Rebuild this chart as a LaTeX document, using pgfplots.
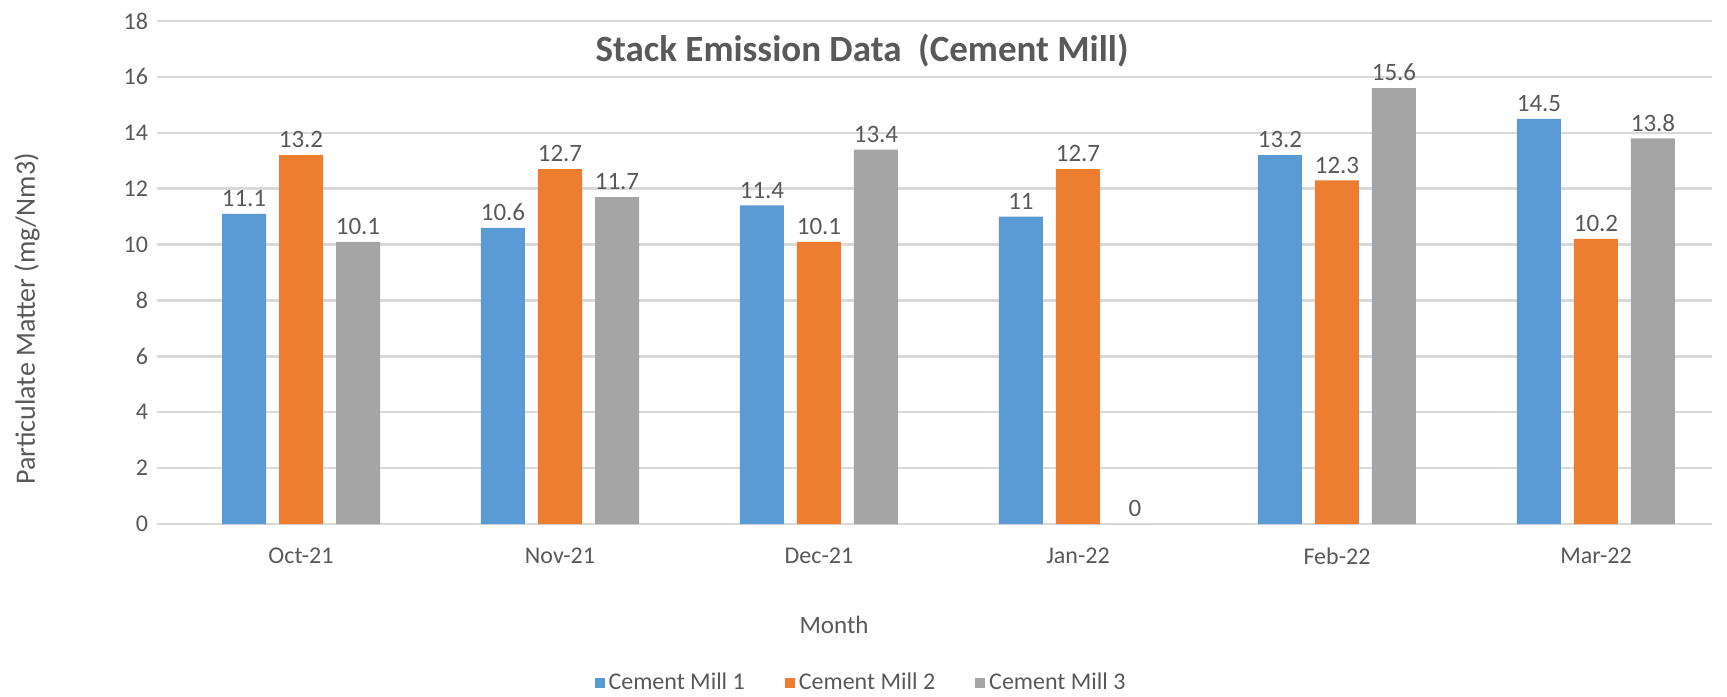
\documentclass[border=0pt]{standalone}
\usepackage{pgfplots}
\pgfplotsset{compat=1.18}
\usepackage{fontspec}
\setmainfont{Carlito}

\definecolor{millblue}{RGB}{91,155,213}
\definecolor{millorange}{RGB}{237,125,49}
\definecolor{millgray}{RGB}{165,165,165}
\definecolor{gridgray}{RGB}{217,217,217}
\definecolor{textgray}{RGB}{89,89,89}

\begin{document}
\begin{tikzpicture}
\useasboundingbox (-78.5pt,-86pt) rectangle (785pt,262pt);
\begin{axis}[
  at={(0,0)}, anchor=south west,
  scale only axis,
  width=777.5pt, height=251.5pt,
  ybar=6.5pt, bar width=22pt,
  xmin=-0.556, xmax=5.448,
  ymin=0, ymax=18,
  xtick={0,...,5},
  xticklabels={Oct-21,Nov-21,Dec-21,Jan-22,Feb-22,Mar-22},
  ytick={0,2,...,18},
  ymajorgrids,
  major grid style={gridgray, line width=1.2pt},
  axis line style={draw=none},
  tick style={draw=none},
  ticklabel style={font=\fontsize{12}{14}\selectfont, text=textgray},
  /pgf/number format/assume math mode=true,
  yticklabel style={xshift=-1pt},
  xticklabel style={yshift=-4pt},
  title={Stack Emission Data\ \ (Cement Mill)},
  title style={at={(axis description cs:0.4534,0.9165)}, anchor=center,
    font=\fontsize{18.5}{22}\selectfont\bfseries, text=textgray},
  xlabel={Month},
  xlabel style={at={(axis description cs:0.4354,-0.2008)}, anchor=center,
    font=\fontsize{12.5}{15}\selectfont, text=textgray},
  ylabel={Particulate Matter (mg/Nm3)},
  ylabel style={at={(axis description cs:-0.0836,0.4076)}, anchor=center,
    font=\fontsize{14}{16}\selectfont, text=textgray},
  nodes near coords,
  nodes near coords style={font=\fontsize{12.5}{15}\selectfont, text=textgray},
  legend columns=3,
  legend style={at={(axis description cs:0.4534,-0.316)}, anchor=center,
    draw=none, font=\fontsize{12}{14}\selectfont, text=textgray,
    /tikz/every even column/.append style={column sep=18pt}},
  legend image code/.code={\fill[#1] (0pt,-2.5pt) rectangle (5pt,2.5pt);},
]
\addplot[fill=millblue, draw=none] coordinates {(0,11.1) (1,10.6) (2,11.4) (3,11) (4,13.2) (5,14.5)};
\addplot[fill=millorange, draw=none] coordinates {(0,13.2) (1,12.7) (2,10.1) (3,12.7) (4,12.3) (5,10.2)};
\addplot[fill=millgray, draw=none] coordinates {(0,10.1) (1,11.7) (2,13.4) (3,0) (4,15.6) (5,13.8)};
\legend{Cement Mill 1, Cement Mill 2, Cement Mill 3}
\end{axis}
\end{tikzpicture}
\end{document}
